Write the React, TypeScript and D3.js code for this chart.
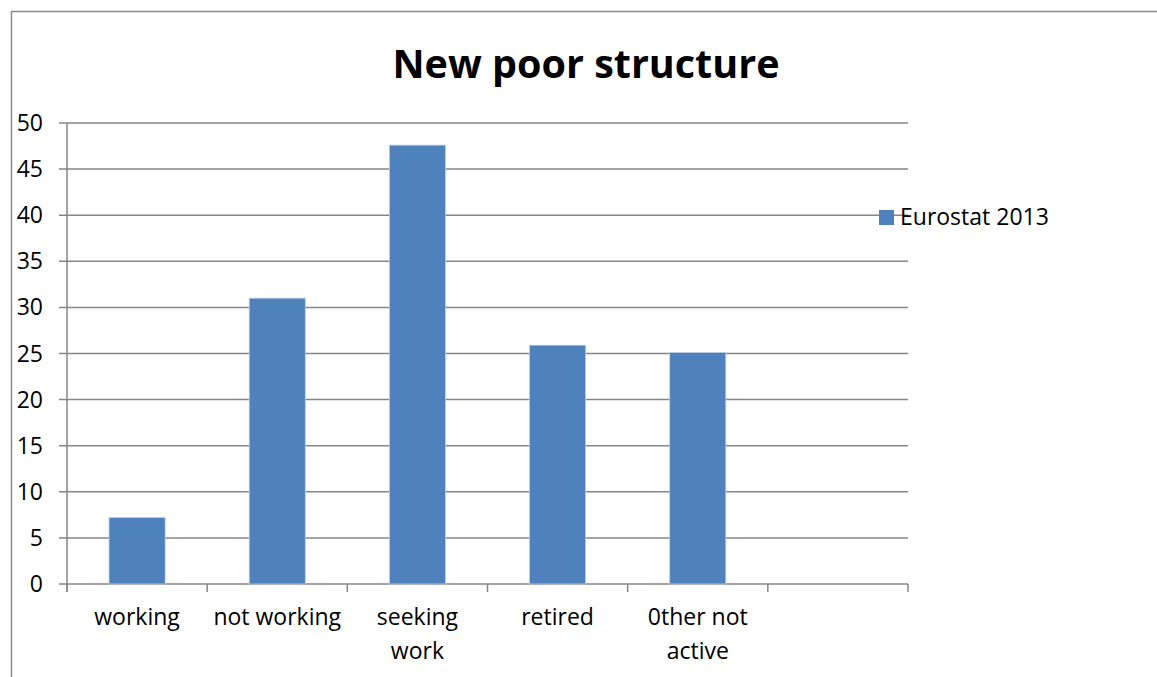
import React from "react";
import * as d3 from "d3";

const categories = ["working", "not working", "seeking work", "retired", "0ther not active", ""];
const values = [7.2, 31.0, 47.6, 25.9, 25.1, null];
const yTicks = [0, 5, 10, 15, 20, 25, 30, 35, 40, 45, 50];
const seriesName = "Eurostat 2013";
const title = "New poor structure";

const labelLines: Record<string, string[]> = {
  "working": ["working"],
  "not working": ["not working"],
  "seeking work": ["seeking", "work"],
  "retired": ["retired"],
  "0ther not active": ["0ther not", "active"],
  "": [],
};

export default function App() {
  const W = 1157, H = 677;
  const left = 67, right = 908, top = 123, bottom = 584;
  const x = d3.scaleBand<string>().domain(categories.map((c, i) => c + "#" + i)).range([left, right]).paddingInner(0.6).paddingOuter(0.3);
  const y = d3.scaleLinear().domain([0, 50]).range([bottom, top]);
  const step = x.step();
  const font = "'Open Sans', sans-serif";
  const grid = "#868686";
  return (
    <svg width={W} height={H} style={{ position: "absolute", left: 0, top: 0, background: "#fff" }} fontFamily={font}>
      <rect x={11.5} y={11.5} width={W + 10} height={H + 10} fill="#fff" stroke="#8a8a8a" strokeWidth={1.5} />
      <text x={586} y={78} textAnchor="middle" fontWeight="bold" fontSize={39.5} fill="#000">{title}</text>
      {yTicks.map((t) => (
        <g key={t}>
          <line x1={59} x2={right} y1={y(t)} y2={y(t)} stroke={grid} strokeWidth={1.5} />
          <text x={43} y={y(t) + 8} textAnchor="end" fontSize={23} fill="#000">{t}</text>
        </g>
      ))}
      <line x1={left} x2={left} y1={top} y2={bottom + 8} stroke={grid} strokeWidth={1.5} />
      {d3.range(categories.length + 1).map((i) => (
        <line key={i} x1={left + i * step} x2={left + i * step} y1={bottom} y2={bottom + 8} stroke={grid} strokeWidth={1.5} />
      ))}
      {categories.map((c, i) => {
        const v = values[i];
        const xp = x(c + "#" + i)!;
        return v == null ? null : (
          <rect key={i} x={xp} y={y(v)} width={x.bandwidth()} height={y(0) - y(v)} fill="#4F81BD" stroke="#B9CDE5" strokeWidth={0.8} />
        );
      })}
      {categories.map((c, i) => {
        const cx = x(c + "#" + i)! + x.bandwidth() / 2;
        return (labelLines[c] || []).map((line, j) => (
          <text key={i + "-" + j} x={cx} y={625 + j * 34} textAnchor="middle" fontSize={23} fill="#000">{line}</text>
        ));
      })}
      <rect x={879} y={210} width={15} height={15} fill="#4F81BD" />
      <text x={900} y={225} fontSize={23} fill="#000">{seriesName}</text>
    </svg>
  );
}
